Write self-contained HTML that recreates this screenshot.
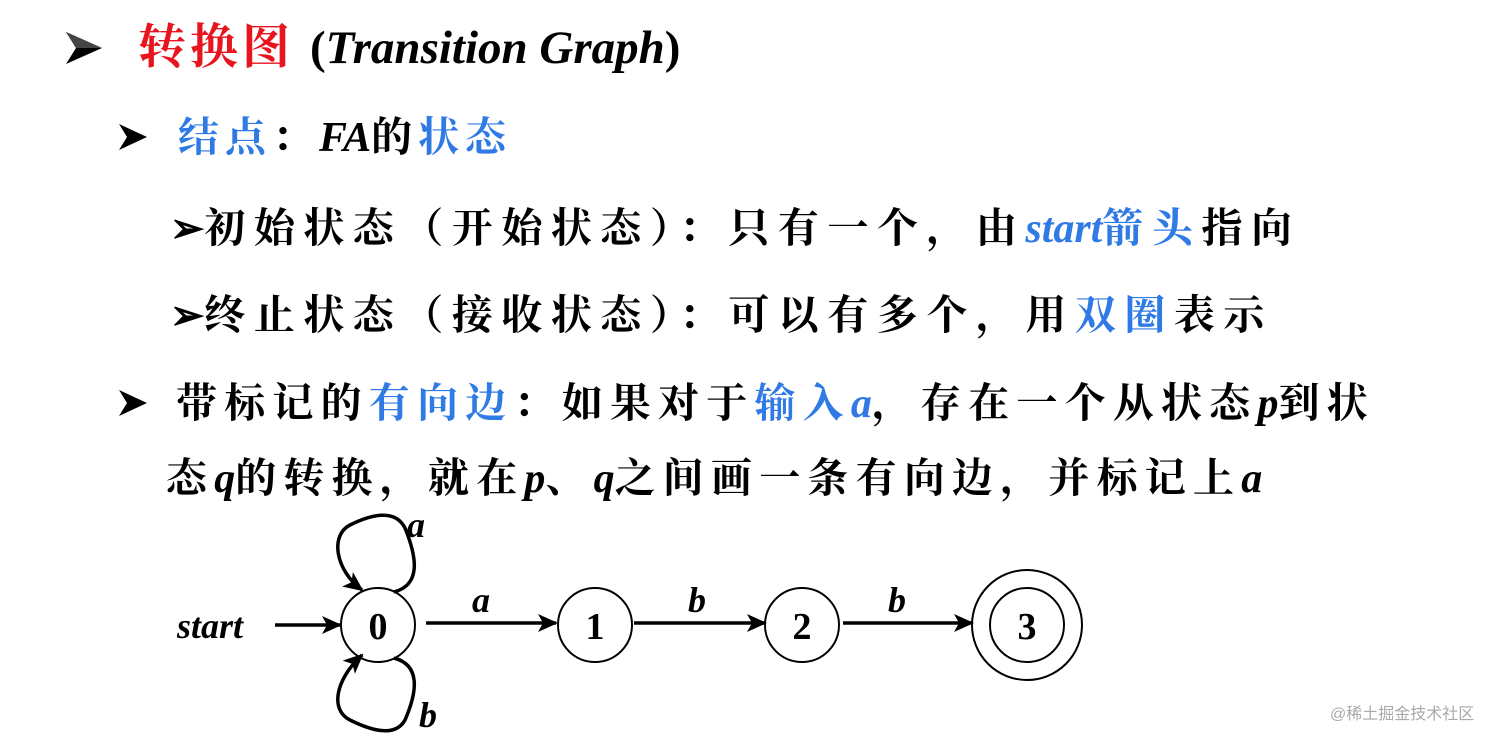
<!DOCTYPE html>
<html><head><meta charset="utf-8"><style>
body{margin:0;width:1512px;height:742px;background:#fff;position:relative;overflow:hidden;font-family:"Liberation Serif","Noto Serif CJK SC",serif;font-weight:bold;color:#000}
.t{position:absolute;white-space:nowrap;font-size:41px;letter-spacing:7.5px;line-height:1}
.b{color:#2f7ae5}.r{color:#e8141e}
i{font-style:italic;letter-spacing:0;font-size:42px}
.l{letter-spacing:0}
.ar{position:absolute}
</style></head><body>
<svg class="ar" style="left:64px;top:30px" width="40" height="36"><path d="M2,2 L38,18 L2,34 L12,18z" fill="#000"/><path d="M2,2 L38,18 L12,18z" fill="#444"/></svg>
<div class="t" style="left:138px;top:24px;font-size:48px;letter-spacing:4px"><span class="r">转换图</span> <span class="l" style="font-size:47px">(<i style="font-size:47px">Transition Graph</i>)</span></div>
<svg class="ar" style="left:117px;top:122px" width="32" height="30"><path d="M2,2 L30,15 L2,28 L10,15z" fill="#000"/></svg>
<div class="t" style="left:178px;top:117px;letter-spacing:6px"><span class="b">结点</span>：<i>FA</i>的<span class="b">状态</span></div>
<div class="t" style="left:170px;top:208px;letter-spacing:8.5px"><span style="letter-spacing:0">➢</span>初始状态（开始状态）：只有一个，由<i class="b">start</i><span class="b">箭头</span>指向</div>
<div class="t" style="left:170px;top:295px;letter-spacing:8.5px"><span style="letter-spacing:0">➢</span>终止状态（接收状态）：可以有多个，用<span class="b">双圈</span>表示</div>
<svg class="ar" style="left:117px;top:388px" width="32" height="30"><path d="M2,2 L30,15 L2,28 L10,15z" fill="#000"/></svg>
<div class="t" style="left:176px;top:383px;letter-spacing:7.2px"><span>带标记的</span><span class="b">有向边</span>：如果对于<span class="b">输入<i>a</i></span>，存在一个从状态<i>p</i>到状</div>
<div class="t" style="left:166px;top:458px;letter-spacing:7.2px">态<i>q</i>的转换，就在<i>p</i>、<i>q</i>之间画一条有向边，并标记上<i>a</i></div>
<svg width="1512" height="742" style="position:absolute;left:0;top:0" font-family="Liberation Serif" font-weight="bold" font-style="italic">
<defs><marker id="m" markerWidth="20" markerHeight="18" refX="18" refY="9" orient="auto" markerUnits="userSpaceOnUse" viewBox="0 0 20 18"><path d="M0,0 L20,9 L0,18 L5,9z" fill="#000"/></marker></defs>
<g stroke="#000" stroke-width="2" fill="none">
<circle cx="378" cy="625" r="37"/><circle cx="595" cy="625" r="37"/><circle cx="802" cy="625" r="37"/>
<circle cx="1027" cy="625" r="55"/><circle cx="1027" cy="625" r="37"/>
</g>
<g stroke="#000" stroke-width="3.5" fill="none" marker-end="url(#m)">
<line x1="275" y1="625" x2="340" y2="625"/>
<line x1="426" y1="623" x2="556" y2="623"/>
<line x1="634" y1="623" x2="765" y2="623"/>
<line x1="843" y1="623" x2="972" y2="623"/>
<path d="M394,592 C420,585 418,560 405,528 C395,508 370,515 350,525 C330,535 335,570 362,590"/>
<path d="M394,658 C420,665 418,690 405,720 C395,738 370,730 350,720 C330,710 335,680 362,655"/>
</g>
<g font-size="38" text-anchor="middle" font-style="normal"><text x="378" y="639">0</text><text x="595" y="639">1</text><text x="802" y="639">2</text><text x="1027" y="639">3</text></g>
<g font-size="36" text-anchor="middle"><text x="210" y="638">start</text><text x="481" y="612">a</text><text x="697" y="612">b</text><text x="897" y="612">b</text><text x="416" y="537">a</text><text x="428" y="727">b</text></g>
</svg>
<div style="position:absolute;left:1330px;top:700px;font:16px 'Liberation Sans','Noto Sans CJK SC',sans-serif;color:#aaa">@稀土掘金技术社区</div>
</body></html>
